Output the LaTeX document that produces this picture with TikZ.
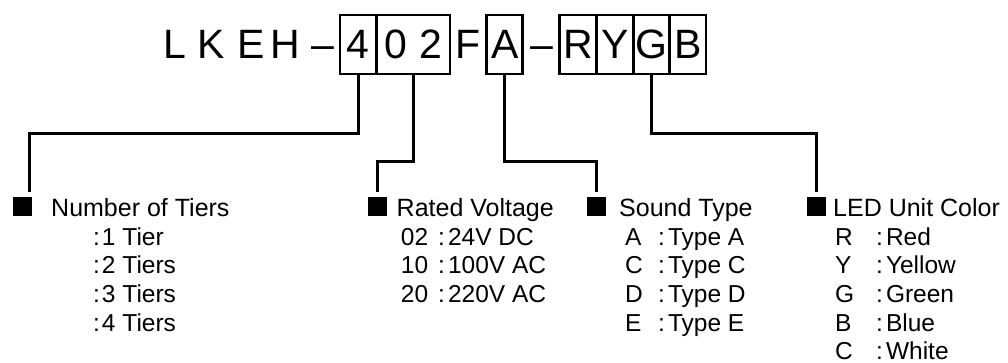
\documentclass[tikz,border=0pt]{standalone}
\usepackage{fontspec}
\setmainfont{Liberation Sans}
\begin{document}
\begin{tikzpicture}
  [x=1pt,y=-1pt,
   glyph/.style={inner sep=0pt,text height=28.6pt,text depth=0pt,font=\fontsize{41}{41}\selectfont},
   charbox/.style={glyph,draw,line width=2.7pt,minimum height=59pt},
   bullet/.style={fill=black,inner sep=0pt,minimum size=19pt},
   head/.style={anchor=base west,inner sep=0pt,font=\fontsize{25}{25}\selectfont},
   code/.style={anchor=base west,inner sep=0pt,font=\fontsize{24.5}{24.5}\selectfont},
   desc/.style={code},
   lead/.style={line width=3pt,shorten >=5pt}]

  \useasboundingbox (0,0) rectangle (1008,363);

  % model number
  \foreach \c/\x [count=\i] in {L/174.5,K/211,E/251,H/285,\textendash/322.5,F/468,\textendash/542}
    \node[glyph] (t\i) at (\x,44.5) {\c};
  \node[charbox,minimum width=36.7pt] (tiers) at (358.3,44.5) {4};
  \node[charbox,minimum width=73.3pt] (volt) at (413.3,44.5) {0\hspace{12pt}2};
  \node[charbox,minimum width=36pt] (sound) at (504.7,44.5) {A};
  \node[charbox,minimum width=37.4pt] (red) at (578,44.5) {R};
  \node[charbox,minimum width=36.6pt] (yellow) at (615,44.5) {Y};
  \node[charbox,minimum width=36pt] (green) at (651.3,44.5) {G};
  \node[charbox,minimum width=36.7pt] (blue) at (687.7,44.5) {B};

  % headings
  \node[bullet] (b_tiers) at (22.2,206.7) {};
  \node[head] (h_tiers) at (51,216.7) {Number of Tiers};
  \node[bullet] (b_volt) at (377.5,206.7) {};
  \node[head] (h_volt) at (396.5,216.7) {Rated Voltage};
  \node[bullet] (b_sound) at (596.7,206.7) {};
  \node[head] (h_sound) at (619,216.7) {Sound Type};
  \node[bullet] (b_led) at (816,206.7) {};
  \node[head] (h_led) at (833,216.7) {LED Unit Color};

  \draw[lead] (tiers.south) -- ++(0,58) -| ([xshift=7pt]b_tiers.north);
  \draw[lead] (volt.south) -- ++(0,86.3) -| (b_volt.north);
  \draw[lead] (sound.south) -- ++(0,86.3) -| (b_sound.north);
  \draw[lead] (green.south) -- ++(0,58) -| (b_led.north);

  % options
  \foreach \txt [count=\i] in {1 Tier,2 Tiers,3 Tiers,4 Tiers}
    \node[desc] (tiers\i) at (93,216.7+28.6*\i) {:\hspace{2pt}\txt};
  \foreach \code/\txt [count=\i] in {02/24V DC,10/100V AC,20/220V AC} {
    \node[code] (volt\i) at (400.7,216.7+28.6*\i) {\code};
    \node[desc] (voltd\i) at (438,216.7+28.6*\i) {:\hspace{3pt}\txt};
  }
  \foreach \code/\txt [count=\i] in {A/Type A,C/Type C,D/Type D,E/Type E} {
    \node[code] (snd\i) at (625,216.7+28.6*\i) {\code};
    \node[desc] (sndd\i) at (658,216.7+28.6*\i) {:\hspace{3pt}\txt};
  }
  \foreach \code/\txt [count=\i] in {R/Red,Y/Yellow,G/Green,B/Blue,C/White} {
    \node[code] (led\i) at (835,216.7+28.6*\i) {\code};
    \node[desc] (ledd\i) at (876,216.7+28.6*\i) {:\hspace{3pt}\txt};
  }
\end{tikzpicture}
\end{document}
